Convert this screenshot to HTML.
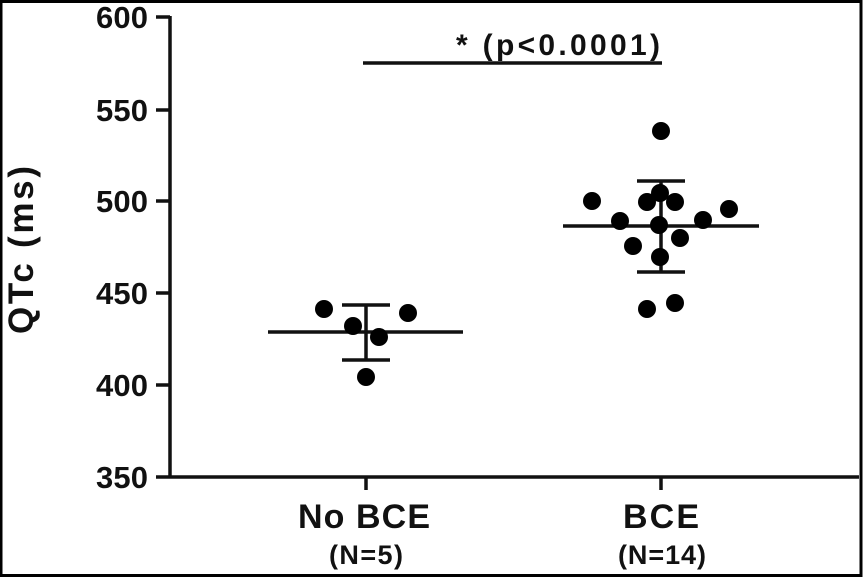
<!DOCTYPE html>
<html><head><style>
html,body{margin:0;padding:0;background:#fff;}
svg{display:block;}
text{font-family:"Liberation Sans",Arial,sans-serif;font-weight:bold;fill:#111;}
</style></head><body>
<svg width="863" height="578" viewBox="0 0 863 578" xmlns="http://www.w3.org/2000/svg">
<rect x="0" y="0" width="863" height="578" fill="#fff"/>
<rect x="1" y="1.5" width="860" height="574" fill="none" stroke="#000" stroke-width="3"/>
<g stroke="#111" stroke-width="3.5" fill="none">
<line x1="170" y1="16" x2="170" y2="478"/>
<line x1="156" y1="477" x2="859" y2="477"/>
<line x1="156" y1="17" x2="170" y2="17"/>
<line x1="156" y1="110" x2="170" y2="110"/>
<line x1="156" y1="201" x2="170" y2="201"/>
<line x1="156" y1="293" x2="170" y2="293"/>
<line x1="156" y1="385" x2="170" y2="385"/>
<line x1="366" y1="477" x2="366" y2="490"/>
<line x1="661" y1="477" x2="661" y2="490"/>
<line x1="363" y1="63" x2="662" y2="63"/>
<line x1="268" y1="332" x2="463" y2="332"/>
<line x1="366" y1="305" x2="366" y2="360"/>
<line x1="342" y1="305" x2="390" y2="305"/>
<line x1="342" y1="360" x2="390" y2="360"/>
<line x1="563" y1="226" x2="759" y2="226"/>
<line x1="661" y1="181" x2="661" y2="272"/>
<line x1="637" y1="181" x2="685" y2="181"/>
<line x1="637" y1="272" x2="685" y2="272"/>
</g>
<g fill="#000">
<circle cx="324" cy="309" r="9"/><circle cx="408" cy="313" r="9"/><circle cx="353" cy="326" r="9"/><circle cx="379" cy="337" r="9"/><circle cx="366" cy="377" r="9"/>
<circle cx="661" cy="131" r="9"/><circle cx="592" cy="201" r="9"/><circle cx="660" cy="193" r="9"/><circle cx="647" cy="202" r="9"/><circle cx="675" cy="202" r="9"/><circle cx="620" cy="221" r="9"/><circle cx="729" cy="209" r="9"/><circle cx="659" cy="225" r="9"/><circle cx="703" cy="220" r="9"/><circle cx="680" cy="238" r="9"/><circle cx="633" cy="246" r="9"/><circle cx="660" cy="257" r="9"/><circle cx="647" cy="309" r="9"/><circle cx="675" cy="303" r="9"/>
</g>
<g font-size="31" text-anchor="end">
<text x="148" y="28" textLength="52">600</text>
<text x="148" y="121" textLength="52">550</text>
<text x="148" y="212" textLength="52">500</text>
<text x="148" y="304" textLength="52">450</text>
<text x="148" y="396" textLength="52">400</text>
<text x="148" y="488" textLength="52">350</text>
</g>
<text x="0" y="0" font-size="35" text-anchor="middle" textLength="168" transform="translate(33,250) rotate(-90)">QTc (ms)</text>
<text x="558" y="55" font-size="30" text-anchor="middle" textLength="204">*  (p&lt;0.0001)</text>
<text x="364" y="528" font-size="34" text-anchor="middle" textLength="132">No BCE</text>
<text x="661" y="528" font-size="34" text-anchor="middle" textLength="76">BCE</text>
<text x="366" y="564" font-size="27" text-anchor="middle" textLength="74">(N=5)</text>
<text x="662" y="564" font-size="27" text-anchor="middle" textLength="88">(N=14)</text>
</svg>
</body></html>
